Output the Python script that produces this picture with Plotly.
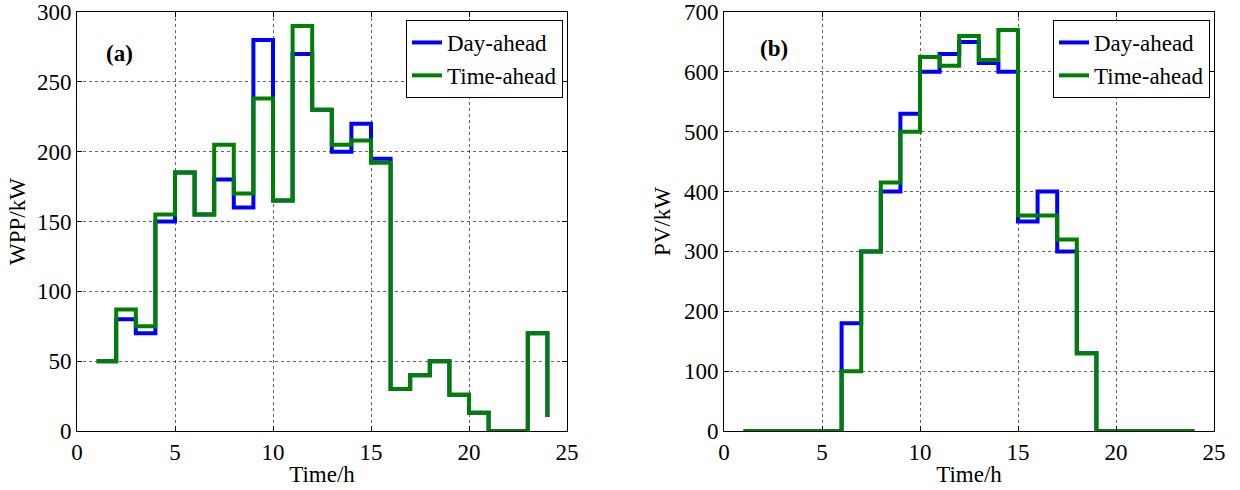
import plotly.graph_objects as go

hours = list(range(1, 25))
wpp_day_ahead = [50, 80, 70, 150, 185, 155, 180, 160, 280, 165, 270, 230,
                 200, 220, 195, 30, 40, 50, 26, 13, 0, 0, 70, 10]
wpp_time_ahead = [50, 87, 75, 155, 185, 155, 205, 170, 238, 165, 290, 230,
                  205, 208, 192, 30, 40, 50, 26, 13, 0, 0, 70, 10]
pv_day_ahead = [0, 0, 0, 0, 0, 180, 300, 400, 530, 600, 630, 650,
                615, 600, 350, 400, 300, 130, 0, 0, 0, 0, 0, 0]
pv_time_ahead = [0, 0, 0, 0, 0, 100, 300, 415, 500, 625, 610, 660,
                 620, 670, 360, 360, 320, 130, 0, 0, 0, 0, 0, 0]

BLUE = "rgb(0,0,255)"
GREEN = "rgb(0,128,0)"
FONT = "Liberation Serif, Times New Roman, serif"
FS = 23
W, H = 1240, 490
MT, MB = 12, 59
PH = H - MT - MB

fig = go.Figure()
fig.add_trace(go.Scatter(x=hours, y=wpp_day_ahead, mode="lines", line_shape="hv",
                         line=dict(color=BLUE, width=4), name="Day-ahead",
                         xaxis="x", yaxis="y", legend="legend"))
fig.add_trace(go.Scatter(x=hours, y=wpp_time_ahead, mode="lines", line_shape="hv",
                         line=dict(color=GREEN, width=4), name="Time-ahead",
                         xaxis="x", yaxis="y", legend="legend"))
fig.add_trace(go.Scatter(x=hours, y=pv_day_ahead, mode="lines", line_shape="hv",
                         line=dict(color=BLUE, width=4), name="Day-ahead",
                         xaxis="x2", yaxis="y2", legend="legend2"))
fig.add_trace(go.Scatter(x=hours, y=pv_time_ahead, mode="lines", line_shape="hv",
                         line=dict(color=GREEN, width=4), name="Time-ahead",
                         xaxis="x2", yaxis="y2", legend="legend2"))

axis_common = dict(showline=True, linecolor="black", linewidth=1, mirror="ticks",
                   ticks="inside", ticklen=5, tickcolor="black",
                   showgrid=True, gridcolor="rgba(0,0,0,0.6)", griddash="dot", gridwidth=1,
                   zeroline=False, tickfont=dict(family=FONT, size=FS, color="black"),
                   automargin=False)

def px(v):
    return v / W

def py(v):
    return (H - MB - v) / PH

legend_common = dict(xanchor="right", y=py(20), yanchor="top",
                     bgcolor="white", bordercolor="black", borderwidth=1,
                     font=dict(family=FONT, size=FS, color="black"),
                     tracegroupgap=0, itemwidth=30)

fig.update_layout(
    width=W, height=H,
    margin=dict(l=0, r=0, t=MT, b=MB),
    paper_bgcolor="white", plot_bgcolor="white",
    font=dict(family=FONT, size=FS, color="black"),
    xaxis=dict(axis_common, domain=[px(77), px(567)], range=[0, 25], dtick=5,
               anchor="y",
               title=dict(text="Time/h", font=dict(family=FONT, size=FS), standoff=2)),
    yaxis=dict(axis_common, domain=[0, 1], range=[0, 300], dtick=50, anchor="x",
               title=dict(text="WPP/kW", font=dict(family=FONT, size=FS), standoff=4)),
    xaxis2=dict(axis_common, domain=[px(724), px(1214)], range=[0, 25], dtick=5,
                anchor="y2",
                title=dict(text="Time/h", font=dict(family=FONT, size=FS), standoff=2)),
    yaxis2=dict(axis_common, domain=[0, 1], range=[0, 700], dtick=100, anchor="x2",
                title=dict(text="PV/kW", font=dict(family=FONT, size=FS), standoff=6)),
    legend=dict(legend_common, x=px(563)),
    legend2=dict(legend_common, x=px(1210)),
    showlegend=True,
    annotations=[
        dict(text="<b>(a)</b>", x=px(119), y=py(53), xref="paper", yref="paper",
             xanchor="center", yanchor="middle",
             showarrow=False, font=dict(family=FONT, size=FS, color="black")),
        dict(text="<b>(b)</b>", x=px(774), y=py(49), xref="paper", yref="paper",
             xanchor="center", yanchor="middle",
             showarrow=False, font=dict(family=FONT, size=FS, color="black")),
    ],
)

fig.write_html("out.html")
